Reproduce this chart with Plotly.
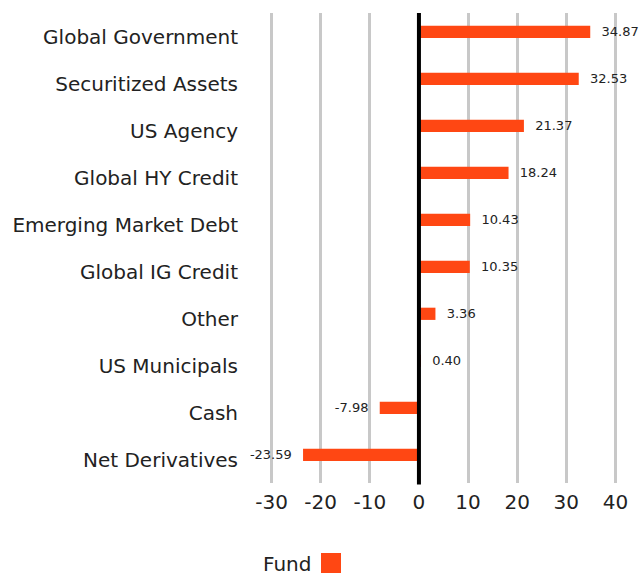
import plotly.graph_objects as go

categories = ["Global Government", "Securitized Assets", "US Agency", "Global HY Credit",
              "Emerging Market Debt", "Global IG Credit", "Other", "US Municipals",
              "Cash", "Net Derivatives"]
fund_values = [34.87, 32.53, 21.37, 18.24, 10.43, 10.35, 3.36, 0.40, -7.98, -23.59]
x_ticks = [-30, -20, -10, 0, 10, 20, 30, 40]

BAR = "#FF4713"
FONT = "DejaVu Sans"

labels = [("\u00a0\u00a0" + f"{v:.2f}") if v >= 0 else (f"{v:.2f}" + "\u00a0\u00a0") for v in fund_values]

fig = go.Figure()
fig.add_trace(go.Bar(
    y=categories, x=fund_values, orientation="h", name="Fund",
    marker=dict(color=BAR, line=dict(width=0)),
    width=0.26, offset=-0.23,
    text=labels, textposition="outside", cliponaxis=False, constraintext="none",
    textfont=dict(size=13, color="#222222", family=FONT),
    showlegend=False,
))

fig.update_layout(
    width=640, height=578,
    margin=dict(l=247, r=0, t=13, b=95),
    plot_bgcolor="white", paper_bgcolor="white",
    font=dict(family=FONT, color="#222222"),
    xaxis=dict(range=[-35, 45], tickvals=x_ticks, ticktext=[str(t) for t in x_ticks],
               showgrid=True, gridcolor="#C8C8C8", gridwidth=3,
               zeroline=False,
               tickfont=dict(size=20, color="#222222"), ticks="", ticklabelstandoff=5,
               showline=False, fixedrange=True, automargin=False),
    yaxis=dict(autorange="reversed", showgrid=False, zeroline=False,
               tickfont=dict(size=20, color="#222222"), ticks="", ticklabelstandoff=8,
               showline=False, automargin=False, fixedrange=True),
    bargap=0.7,
)

# zero line drawn above the bars
fig.add_shape(type="line", xref="x", yref="paper", x0=0, x1=0, y0=-0.003, y1=1,
              line=dict(color="#000000", width=4), layer="above")

# legend: text then swatch
fig.add_annotation(text="Fund", xref="paper", yref="paper", x=(261 - 247) / 393, y=-(564 - 483) / 470,
                   xanchor="left", yanchor="middle", showarrow=False,
                   font=dict(size=20, color="#222222", family=FONT))
fig.add_shape(type="rect", xref="paper", yref="paper",
              x0=(321 - 247) / 393, x1=(341 - 247) / 393,
              y0=-(573 - 483) / 470, y1=-(553 - 483) / 470,
              fillcolor=BAR, line=dict(width=0))

fig.write_html("out.html", config={"displayModeBar": False},
               post_script="document.body.style.margin='0';document.body.style.overflow='hidden';")
